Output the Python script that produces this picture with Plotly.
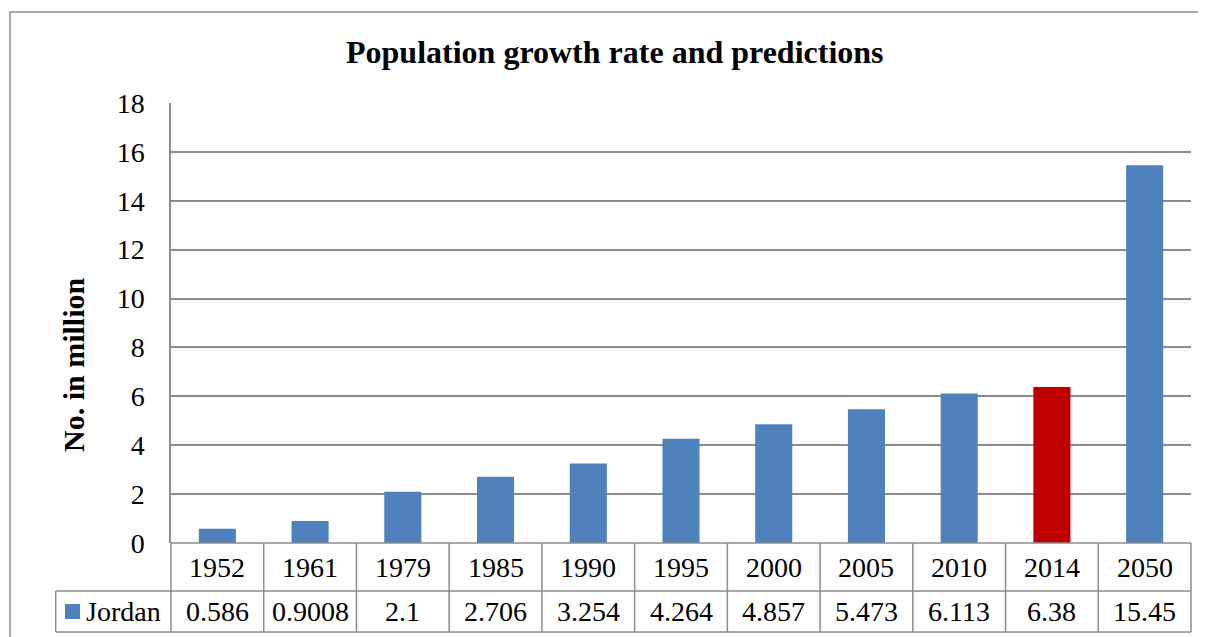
import plotly.graph_objects as go

years = ["1952", "1961", "1979", "1985", "1990", "1995", "2000", "2005", "2010", "2014", "2050"]
jordan = [0.586, 0.9008, 2.1, 2.706, 3.254, 4.264, 4.857, 5.473, 6.113, 6.38, 15.45]
highlight_year = "2014"
series_name = "Jordan"
title_text = "Population growth rate and predictions"
y_title = "No. in million"
y_ticks = [0, 2, 4, 6, 8, 10, 12, 14, 16, 18]

BLUE = "#4F81BD"
RED = "#C00000"
GRID = "#8C8C8C"
FONT = "Liberation Serif"

# the page body has an 8px margin; work in reference-screen pixels and shift
OFF = 8
W, H = 1206, 637
PL, PR, PT, PB = 171, 1191, 103, 543  # plot area in screen px
L = PL - OFF
T = PT - OFF
R = W - (PR - OFF)
B = H - (PB - OFF)
plot_w = PR - PL
plot_h = PB - PT

def py(ypx):
    return (PB - ypx) / plot_h

def pxp(xpx):
    return (xpx - PL) / plot_w

colors = [RED if y == highlight_year else BLUE for y in years]

fig = go.Figure()
fig.add_trace(go.Bar(x=years, y=jordan, marker=dict(color=colors, line=dict(width=0)),
                     name=series_name, showlegend=False))

n = len(years)
shapes = []
line = dict(color=GRID, width=1.5)
row1 = py(591)
row2 = py(632)
leg_left = pxp(55.7)
shapes.append(dict(type="line", xref="paper", yref="paper", x0=leg_left, x1=1, y0=row1, y1=row1, line=line))
shapes.append(dict(type="line", xref="paper", yref="paper", x0=leg_left, x1=1, y0=row2, y1=row2, line=line))
shapes.append(dict(type="line", xref="paper", yref="paper", x0=0, x1=1, y0=0, y1=0, line=line))
for i in range(n + 1):
    shapes.append(dict(type="line", xref="paper", yref="paper", x0=i / n, x1=i / n, y0=0, y1=row2, line=line))
shapes.append(dict(type="line", xref="paper", yref="paper", x0=leg_left, x1=leg_left, y0=row1, y1=row2, line=line))
# legend key
shapes.append(dict(type="rect", xref="paper", yref="paper",
                   x0=pxp(65), x1=pxp(80), y0=py(619), y1=py(604),
                   fillcolor=BLUE, line=dict(width=0)))
# outer chart border
shapes.append(dict(type="rect", xref="paper", yref="paper",
                   x0=pxp(10), x1=1.2, y0=-0.6, y1=py(12),
                   line=dict(color=GRID, width=1.5), fillcolor="rgba(0,0,0,0)"))

annotations = []
cat_y = py(567)
val_y = py(611.5)
cell_font = dict(family=FONT, size=28, color="black")
for i, (yr, v) in enumerate(zip(years, jordan)):
    cx = (i + 0.5) / n
    annotations.append(dict(x=cx, xref="paper", y=cat_y, yref="paper", text=yr, showarrow=False,
                            font=cell_font, xanchor="center", yanchor="middle"))
    annotations.append(dict(x=cx, xref="paper", y=val_y, yref="paper", text=str(v), showarrow=False,
                            font=cell_font, xanchor="center", yanchor="middle"))
annotations.append(dict(x=pxp(84), xref="paper", y=val_y, yref="paper", text=series_name,
                        showarrow=False, xanchor="left", yanchor="middle", font=cell_font))
annotations.append(dict(x=pxp(73), xref="paper", y=py(365), yref="paper", text="<b>" + y_title + "</b>",
                        showarrow=False, textangle=-90, xanchor="center", yanchor="middle",
                        font=dict(family=FONT, size=30, color="black")))
annotations.append(dict(x=pxp(615), xref="paper", y=py(52), yref="paper", text="<b>" + title_text + "</b>",
                        showarrow=False, xanchor="center", yanchor="middle",
                        font=dict(family=FONT, size=32, color="black")))

fig.update_layout(
    width=W, height=H,
    margin=dict(l=L, r=R, t=T, b=B, autoexpand=False),
    paper_bgcolor="white", plot_bgcolor="white",
    bargap=0.6,
    shapes=shapes,
    annotations=annotations,
    font=dict(family=FONT),
)
fig.update_xaxes(type="category", range=[-0.5, n - 0.5], showticklabels=False, showgrid=False,
                 zeroline=False, showline=False)
fig.update_yaxes(range=[0, 18], tickvals=y_ticks, showgrid=True, gridcolor=GRID, gridwidth=1.5,
                 zeroline=False, showline=True, linecolor=GRID, linewidth=1.5,
                 ticks="", ticklabelstandoff=19, tickfont=dict(family=FONT, size=28, color="black"))

fig.write_html("out.html")
